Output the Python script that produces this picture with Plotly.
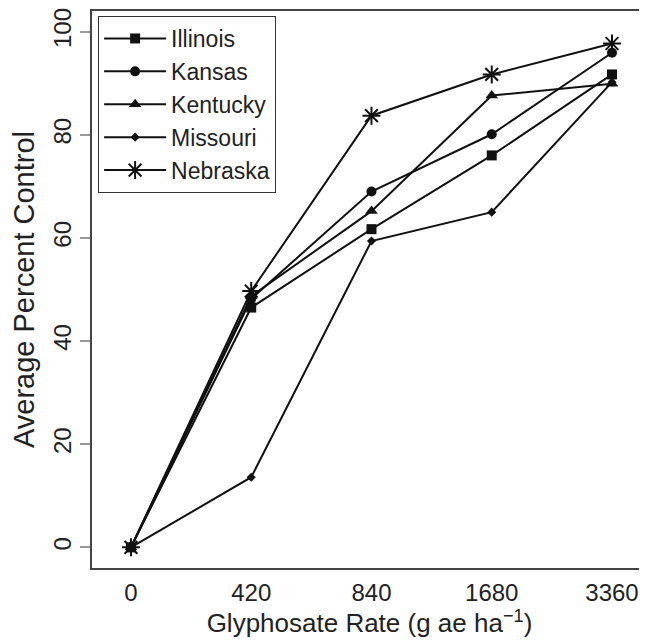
import plotly.graph_objects as go

rates = ["0", "420", "840", "1680", "3360"]
illinois = [0, 46.5, 61.7, 76.0, 91.7]
kansas = [0, 48.2, 69.0, 80.1, 95.9]
kentucky = [0, 48.7, 65.2, 87.6, 89.9]
missouri = [0, 13.6, 59.4, 65.0, 90.2]
nebraska = [0, 49.7, 83.7, 91.7, 97.7]

series = [
    ("Illinois", illinois, "square", 10),
    ("Kansas", kansas, "circle", 10),
    ("Kentucky", kentucky, "triangle-up", 11),
    ("Missouri", missouri, "diamond", 7),
    ("Nebraska", nebraska, "asterisk-open", 15),
]

FONT = "Liberation Sans, Arial, Helvetica, sans-serif"
INK = "#111111"

fig = go.Figure()
for name, vals, sym, sz in series:
    fig.add_trace(go.Scatter(
        x=rates, y=vals, name=name, mode="lines+markers",
        line=dict(color=INK, width=2),
        marker=dict(symbol=sym, size=sz, color=INK,
                    line=dict(color=INK, width=2 if sym == "asterisk-open" else 0)),
    ))

# page body has an 8px default margin, so the figure is sized to fill the rest
fig.update_layout(
    width=639, height=635,
    margin=dict(l=84, r=0, t=1, b=75),
    paper_bgcolor="white", plot_bgcolor="white",
    font=dict(family=FONT, size=24, color="#222222"),
    showlegend=True,
    legend=dict(
        x=0.011, y=0.991, xanchor="left", yanchor="top",
        bgcolor="white", bordercolor="#333333", borderwidth=1,
        font=dict(size=23, family=FONT, color="#222222"),
        tracegroupgap=0, itemwidth=62,
    ),
    xaxis=dict(
        type="category", categoryorder="array", categoryarray=rates,
        range=[-0.324, 4.291],
        showline=True, linecolor="#444444", linewidth=1.5, mirror=True,
        showgrid=False, zeroline=False, ticks="",
        ticklabelstandoff=2,
        tickfont=dict(size=24),
        title=dict(text="Glyphosate Rate (g ae ha<sup>\u22121</sup>)",
                   font=dict(size=26), standoff=7),
    ),
    yaxis=dict(
        range=[-4, 104],
        tickvals=[0, 20, 40, 60, 80, 100],
        showline=True, linecolor="#444444", linewidth=1.5, mirror=False,
        showgrid=False, zeroline=False,
        ticks="outside", ticklen=10, tickcolor="#999999", tickwidth=1.5,
        tickangle=-90, tickfont=dict(size=24),
        ticklabeloverflow="allow",
        title=dict(text="Average Percent Control", font=dict(size=29), standoff=9),
    ),
)

fig.write_html("out.html")
